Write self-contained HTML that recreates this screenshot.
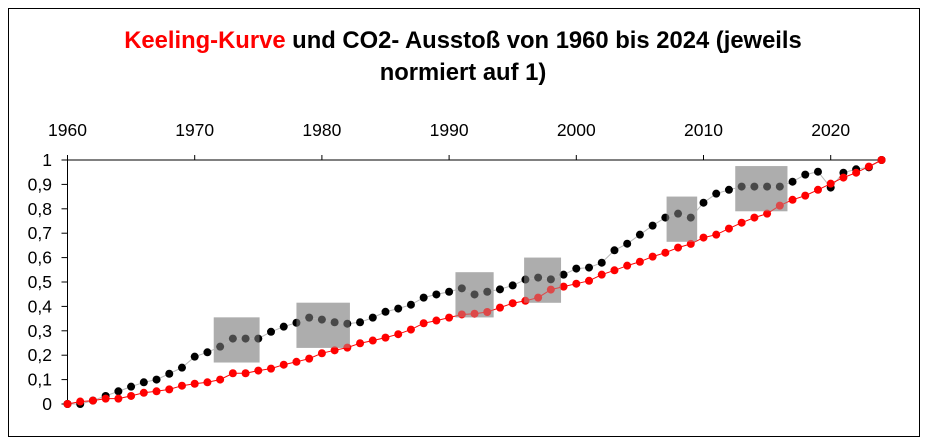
<!DOCTYPE html>
<html><head><meta charset="utf-8"><style>
html,body{margin:0;padding:0;background:#fff;}
svg{display:block;font-family:"Liberation Sans",Arial,sans-serif;}
</style></head><body>
<svg id="chart" width="928" height="444" viewBox="0 0 928 444" xmlns="http://www.w3.org/2000/svg">
<rect x="8.5" y="8.5" width="911" height="428" fill="#fff" stroke="#000" stroke-width="1"/>
<text x="463" y="48" text-anchor="middle" font-size="23.8" font-weight="bold"><tspan fill="#ff0000">Keeling-Kurve</tspan> und CO2- Ausstoß von 1960 bis 2024 (jeweils</text>
<text x="463" y="80" text-anchor="middle" font-size="23.8" font-weight="bold">normiert auf 1)</text>
<g id="axes"></g>
<g id="boxes"></g>
<g id="series"></g>
<g id="overlay"></g>
</svg>
<script>
const years = [];
for (let y = 1960; y <= 2024; y++) years.push(y);
const co2 = [0,0,.014,.033,.052,.071,.089,.100,.124,.149,.194,.212,.235,.268,.268,.268,.296,.317,.333,.354,.346,.335,.329,.335,.354,.378,.391,.407,.436,.449,.460,.474,.449,.460,.470,.486,.510,.518,.511,.530,.555,.559,.579,.630,.657,.694,.731,.764,.780,.764,.825,.862,.878,.891,.891,.891,.891,.911,.940,.952,.887,.948,.962,.970,1];
const keeling = [0,.010,.014,.022,.022,.033,.046,.052,.060,.075,.083,.089,.100,.126,.126,.137,.145,.161,.173,.186,.208,.220,.231,.249,.260,.272,.286,.305,.331,.342,.354,.367,.370,.377,.395,.413,.423,.436,.469,.481,.493,.505,.530,.548,.567,.583,.604,.620,.641,.656,.682,.694,.719,.743,.764,.780,.813,.837,.854,.878,.903,.928,.948,.973,1];
const xTicks = [1960,1970,1980,1990,2000,2010,2020];
const yTicks = [0,.1,.2,.3,.4,.5,.6,.7,.8,.9,1];
const yTickLabels = ["0","0,1","0,2","0,3","0,4","0,5","0,6","0,7","0,8","0,9","1"];
// highlight boxes: [startYear, endYear, lowValue, highValue]
const boxStart = [1971.5, 1978.0, 1990.5, 1995.9, 2007.1, 2012.5];
const boxEnd = [1975.1, 1982.2, 1993.5, 1998.8, 2009.5, 2016.6];
const boxLow = [.17, .23, .355, .415, .665, .79];
const boxHigh = [.355, .415, .54, .60, .85, .975];

const NS = "http://www.w3.org/2000/svg";
const X = y => 67.5 + (y - 1960) * 12.72;
const Y = v => 404 - v * 244;
function mk(tag, attrs, parent) {
  const e = document.createElementNS(NS, tag);
  for (const k in attrs) e.setAttribute(k, attrs[k]);
  parent.appendChild(e);
  return e;
}
const axes = document.getElementById('axes');
const xl = mk('line', {x1: X(1960), x2: X(2024), y1: Y(1), y2: Y(1), stroke: '#000'}, axes);


const yl = mk('line', {x1: X(1960), x2: X(1960), y1: Y(1) - 5, y2: Y(0), stroke: '#000'}, axes);


xTicks.forEach(t => {
  const tk = mk('line', {x1: X(t), x2: X(t), y1: Y(1) - 5, y2: Y(1), stroke: '#000'}, axes);
  
  
  const tx = mk('text', {x: X(t), y: 136, 'text-anchor': 'middle', 'font-size': 17.5}, axes);
  tx.textContent = t;
  
  
});
yTicks.forEach((t, i) => {
  const tk = mk('line', {x1: X(1960) - 6, x2: X(1960), y1: Y(t), y2: Y(t), stroke: '#000'}, axes);
  
  
  const tx = mk('text', {x: 52, y: Y(t) + 6, 'text-anchor': 'end', 'font-size': 17.5}, axes);
  tx.textContent = yTickLabels[i];
  
  
});
const boxes = document.getElementById('boxes');
const overlay = document.getElementById('overlay');
boxStart.forEach((s, i) => {
  const a = {x: X(s), y: Y(boxHigh[i]), width: X(boxEnd[i]) - X(s), height: Y(boxLow[i]) - Y(boxHigh[i]), fill: '#adadad'};
  const r = mk('rect', a, boxes);
  
  
  const o = mk('rect', Object.assign({}, a, {'fill-opacity': 0.42}), overlay);
  
  
});
const series = document.getElementById('series');
function drawSeries(vals, lineColor, dotColor, name) {
  const pts = vals.map((v, i) => X(years[i]).toFixed(1) + ',' + Y(v).toFixed(1)).join(' ');
  const pl = mk('polyline', {points: pts, fill: 'none', stroke: lineColor, 'stroke-width': 1}, series);
  
  
  vals.forEach((v, i) => {
    const c = mk('circle', {cx: X(years[i]), cy: Y(v), r: 4, fill: dotColor}, series);
    
    
  });
}
drawSeries(co2, '#b8b8b8', '#000', 'co2-emissions');
drawSeries(keeling, '#ff0000', '#ff0000', 'keeling-curve');
</script>
</body></html>
